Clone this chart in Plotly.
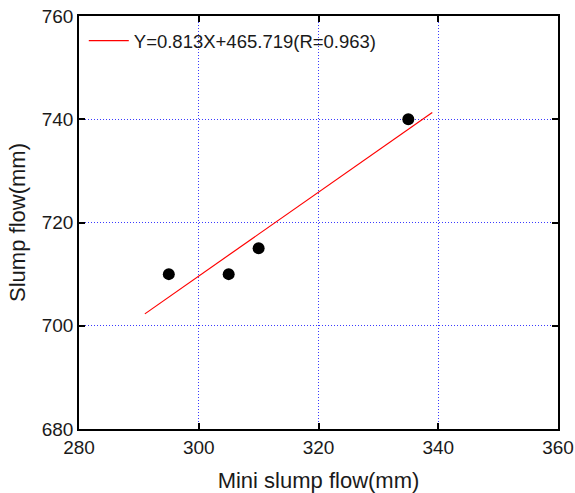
import plotly.graph_objects as go

# Measured flows (mm)
mini_slump = [295, 305, 310, 335]
slump = [710, 710, 715, 740]

# Linear regression result
slope = 0.813
intercept = 465.719
r_value = 0.963
fit_x = [291, 339]
fit_y = [slope * x + intercept for x in fit_x]

x_ticks = [280, 300, 320, 340, 360]
y_ticks = [680, 700, 720, 740, 760]

font_family = "Liberation Sans, Arial, sans-serif"
text_color = "#1a1a1a"

fig = go.Figure()
fig.add_trace(go.Scatter(
    x=fit_x, y=fit_y, mode="lines",
    line=dict(color="#ff0000", width=1.2),
    name=f"Y={slope:.3f}X+{intercept:.3f}(R={r_value:.3f})",
))
fig.add_trace(go.Scatter(
    x=mini_slump, y=slump, mode="markers",
    marker=dict(color="black", size=12, symbol="circle"),
    showlegend=False,
))

axis_common = dict(
    showline=True, linecolor="black", linewidth=1.5, mirror="ticks",
    ticks="inside", ticklen=6, tickwidth=1.5, tickcolor="black",
    showgrid=True, gridcolor="#3a3aff", gridwidth=1, griddash="1px,2px",
    zeroline=False, automargin=False,
    tickfont=dict(size=19, color=text_color, family=font_family),
)

fig.update_xaxes(
    range=[280, 360], tickvals=x_ticks,
    title=dict(text="Mini slump flow(mm)", font=dict(size=22, color=text_color), standoff=16),
    **axis_common,
)
fig.update_yaxes(
    range=[680, 760], tickvals=y_ticks,
    title=dict(text="Slump flow(mm)", font=dict(size=22, color=text_color), standoff=10),
    **axis_common,
)

fig.update_layout(
    width=575, height=493,
    margin=dict(l=79, r=17, t=16, b=64),
    plot_bgcolor="white", paper_bgcolor="white",
    font=dict(family=font_family, color=text_color),
    legend=dict(
        x=0.01, y=0.985, xanchor="left", yanchor="top",
        bgcolor="rgba(0,0,0,0)", font=dict(size=18.5, color=text_color),
        itemwidth=40,
    ),
)

fig.write_html("out.html")
